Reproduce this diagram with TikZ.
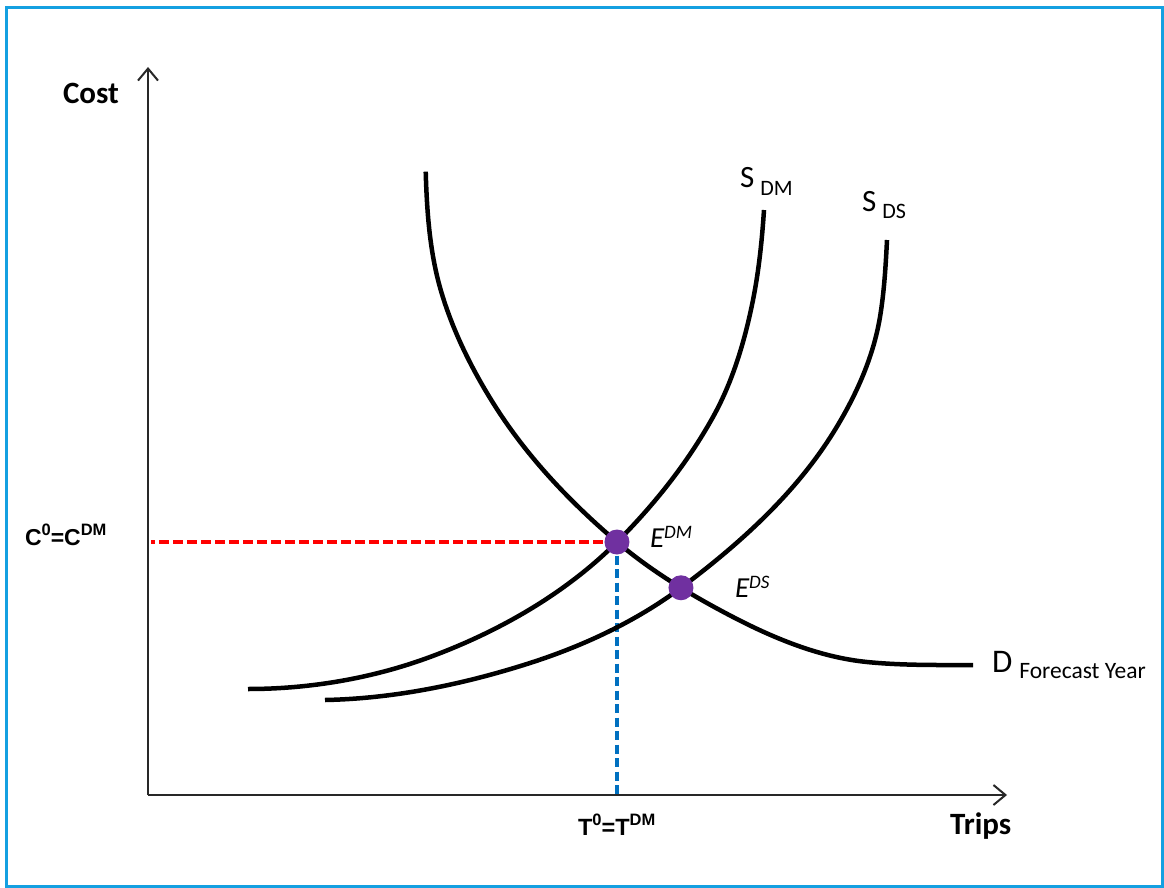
\documentclass[tikz,border=0pt]{standalone}
\usepackage{fontspec}
\setmainfont{Carlito}
\newfontfamily\arialfont{Liberation Sans}
\usetikzlibrary{arrows.meta,intersections}
\definecolor{frameblue}{RGB}{20,160,225}
\definecolor{dotpurple}{RGB}{112,48,160}
\definecolor{dashred}{RGB}{255,0,0}
\definecolor{dashblue}{RGB}{0,112,192}
\definecolor{axisgrey}{RGB}{40,40,40}
\newcommand\hiup[1]{\raisebox{0.42em}{\fontsize{16.5}{16.5}\selectfont #1}}
\newcommand\fsz[1]{\fontsize{#1}{#1}\selectfont}
\newcommand\demandpath{(425.7,171.7) .. controls (426.9,212.6) and (429.8,254.2) .. (441.7,293.3)
  .. controls (453.4,332.1) and (471.8,369.0) .. (493.3,403.3)
  .. controls (526.1,455.8) and (569.8,501.9) .. (617,542)
  .. controls (652.1,571.8) and (692.2,595.8) .. (733,617)
  .. controls (774.8,638.7) and (820.1,657.3) .. (867,662)
  .. controls (902.1,665.5) and (937.7,665) .. (973,665)}
\newcommand\sdmpath{(248,689) .. controls (309.6,689) and (372.2,678.4) .. (430,657)
  .. controls (498.7,631.6) and (565.2,593.8) .. (617,542)
  .. controls (654.1,504.9) and (687.5,462.9) .. (713,417)
  .. controls (733,381) and (744.9,340.4) .. (753,300)
  .. controls (758.9,270.4) and (762,240.1) .. (764,210)}
\newcommand\sdspath{(325,700) .. controls (394.4,698.6) and (463.9,684.2) .. (530,663)
  .. controls (583.9,645.7) and (636.7,621) .. (682,587)
  .. controls (739.5,543.9) and (794.9,494) .. (833,433)
  .. controls (855.1,397.6) and (873.2,358.1) .. (880,317)
  .. controls (884.2,291.6) and (885.7,265.8) .. (887,240)}
\tikzset{
  curve/.style={line width=4.5pt, black},
  axisline/.style={line width=2pt, axisgrey, -{Straight Barb[length=12pt,width=20pt,line width=2pt]}},
  reddash/.style={line width=3.5pt, dashred, dash pattern=on 9.5pt off 4.5pt},
  bluedash/.style={line width=3.2pt, dashblue, dash pattern=on 9pt off 4.5pt},
  eqdot/.style={circle, fill=dotpurple, minimum size=25pt, inner sep=0pt},
  lbl/.style={anchor=base west, inner sep=0pt, outer sep=0pt},
}
\begin{document}
\begin{tikzpicture}[x=1pt,y=-1pt]
\useasboundingbox (0,0) rectangle (1164,888);
\fill[white] (0,0) rectangle (1164,888);
\draw[frameblue, line width=3pt] (6.5,8) rectangle (1162.5,886);

% axes
\coordinate (O) at (148,795);
\coordinate (ytop) at (148,67);
\coordinate (xend) at (1007,795);
\draw[axisline] (O) -- (ytop);
\draw[axisline] (O) -- (xend);

% curve paths (for intersections)
\path[name path=dcurve] \demandpath;
\path[name path=sdm] \sdmpath;
\path[name path=sds] \sdspath;
\path[name intersections={of=dcurve and sdm, by=pDM}];
\path[name intersections={of=dcurve and sds, by=pDS}];

\coordinate (redend) at (151,0);
\draw[reddash] (pDM) -- (pDM -| redend);
\draw[bluedash] (pDM) -- (pDM |- O);

\draw[curve] \demandpath;
\draw[curve] \sdmpath;
\draw[curve] \sdspath;

\node[eqdot] (edm) at (pDM) {};
\node[eqdot] (eds) at (pDS) {};

% labels
\node[lbl] (cost) at (63,104) {\fsz{31}\bfseries Cost};
\node[lbl] (trips) at (950,834) {\fsz{31}\bfseries Trips};
\node[lbl] (clab) at (25,545) {\arialfont\bfseries\fsz{23}C\hiup{0}=C\hiup{DM}};
\node[lbl] (tlab) at (578,835) {\arialfont\bfseries\fsz{23.5}T\hiup{0}=T\hiup{DM}};
\node[lbl] (sdmlab) at (740,187) {\fsz{31}S\hspace{6pt}\raisebox{-8pt}{\fsz{22}DM}};
\node[lbl] (sdslab) at (862,211) {\fsz{31}S\hspace{6pt}\raisebox{-7pt}{\fsz{22}DS}};
\node[lbl] (dlab) at (992,672) {\fsz{33}D\hspace{7pt}\raisebox{-6pt}{\fsz{23.5}Forecast Year}};
\node[lbl] (edmlab) at (650,547) {\fsz{29}\itshape E\raisebox{9pt}{\fsz{19}DM}};
\node[lbl] (edslab) at (735,597) {\fsz{29}\itshape E\raisebox{9pt}{\fsz{19}DS}};
\end{tikzpicture}
\end{document}
